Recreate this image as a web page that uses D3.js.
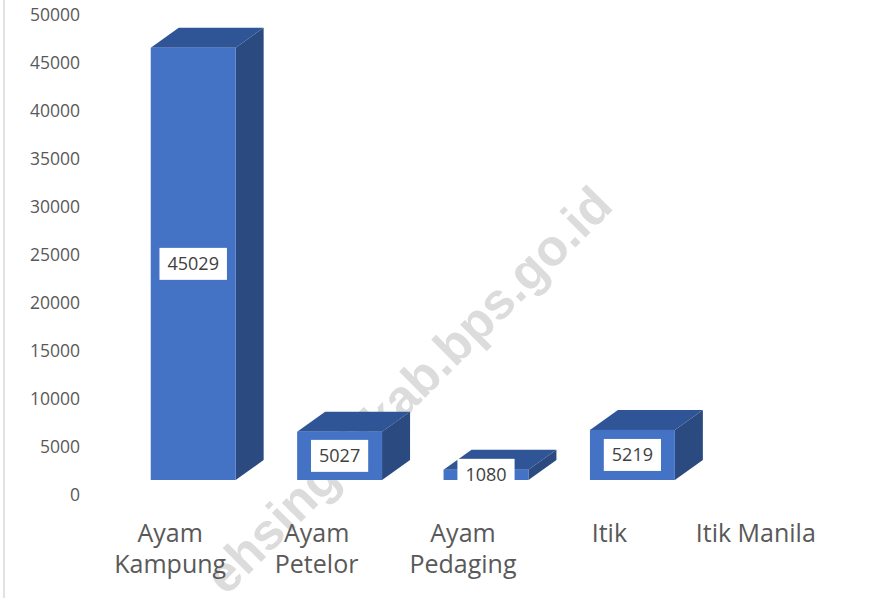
<!DOCTYPE html>
<html>
<head>
<meta charset="utf-8">
<script src="https://cdn.jsdelivr.net/npm/d3@7"></script>
<style>
  body { margin: 0; background: #fff; }
  svg { display: block; }
</style>
</head>
<body>
<svg id="chart" width="889" height="598"></svg>
<script>
// data
const categories = ["Ayam Kampung", "Ayam Petelor", "Ayam Pedaging", "Itik", "Itik Manila"];
const labelLines = [["Ayam", "Kampung"], ["Ayam", "Petelor"], ["Ayam", "Pedaging"], ["Itik"], ["Itik Manila"]];
const values = [45029, 5027, 1080, 5219, null];
const yTicks = [0, 5000, 10000, 15000, 20000, 25000, 30000, 35000, 40000, 45000, 50000];

const svg = d3.select("#chart"),
    width = +svg.attr("width"),
    height = +svg.attr("height");

// depth of the 3d boxes
const dx = 28, dy = -20;
const baseShift = 15; // bars sit above the axis zero like in excel 3d

const x = d3.scaleBand()
    .domain(categories)
    .range([120, 852])
    .paddingInner(0.42)
    .paddingOuter(0.21);

const y = d3.scaleLinear()
    .domain([0, 50000])
    .range([495, 15]);

// left border line
svg.append("line")
    .attr("x1", 4).attr("x2", 4)
    .attr("y1", 0).attr("y2", height)
    .attr("stroke", "#d9d9d9")
    .attr("stroke-width", 1.5);

// watermark (behind bars), clipped at the bottom edge like the original
svg.append("text")
    .attr("transform", "translate(615,208) rotate(-45)")
    .attr("text-anchor", "end")
    .style("font-family", "'Liberation Sans', Arial, sans-serif")
    .style("font-weight", "bold")
    .style("font-size", "51px")
    .style("fill", "#dcdcdc")
    .text("ehsingkilkab.bps.go.id");

// y axis
const yAxis = svg.append("g")
    .attr("transform", "translate(80,0)")
    .call(d3.axisLeft(y).tickValues(yTicks).tickSize(0).tickPadding(0).tickFormat(d3.format("d")));
yAxis.select(".domain").remove();
yAxis.selectAll("text")
    .style("font-family", "'Open Sans', sans-serif")
    .style("font-size", "17.5px")
    .style("fill", "#595959");

// bars
const data = categories.map((c, i) => ({cat: c, v: values[i], lines: labelLines[i]}))
const barData = data.filter(d => d.v != null);

const bar = svg.selectAll(".bar")
    .data(barData)
    .enter().append("g")
    .attr("class", "bar");

function front(d) {
    const x0 = x(d.cat), x1 = x0 + x.bandwidth();
    const yb = y(0) - baseShift, yt = y(d.v) - baseShift;
    return {x0, x1, yb, yt};
}

bar.append("path")
    .attr("d", function (d) {
        const f = front(d);
        return "M" + f.x1 + "," + f.yt + "L" + (f.x1 + dx) + "," + (f.yt + dy) +
            "L" + (f.x1 + dx) + "," + (f.yb + dy) + "L" + f.x1 + "," + f.yb + "Z";
    })
    .style("fill", "#2a4a80");

bar.append("path")
    .attr("d", function (d) {
        const f = front(d);
        return "M" + f.x0 + "," + f.yt + "L" + (f.x0 + dx) + "," + (f.yt + dy) +
            "L" + (f.x1 + dx) + "," + (f.yt + dy) + "L" + f.x1 + "," + f.yt + "Z";
    })
    .style("fill", "#2f5597");

bar.append("rect")
    .attr("x", d => front(d).x0)
    .attr("y", d => front(d).yt)
    .attr("width", x.bandwidth())
    .attr("height", d => front(d).yb - front(d).yt)
    .style("fill", "#4472c4");

// data labels
const lbl = bar.append("g")
    .attr("transform", function (d) {
        const f = front(d);
        return "translate(" + (f.x0 + f.x1) / 2 + "," + (f.yt + f.yb) / 2 + ")";
    });
const lblRect = lbl.append("rect").style("fill", "#fff");
const lblText = lbl.append("text")
    .attr("text-anchor", "middle")
    .attr("dy", "0.35em")
    .style("font-family", "'Open Sans', sans-serif")
    .style("font-size", "18px")
    .style("fill", "#404040")
    .text(d => d.v);
lblText.each(function (d) {
    d.tw = this.getComputedTextLength();
});
lblRect
    .attr("x", d => -d.tw / 2 - 8)
    .attr("width", d => d.tw + 16)
    .attr("y", -16)
    .attr("height", 32);

// category labels
svg.selectAll(".cat")
    .data(data)
    .enter().append("text")
    .attr("class", "cat")
    .attr("text-anchor", "middle")
    .attr("y", 542)
    .style("font-family", "'Open Sans', sans-serif")
    .style("font-size", "25px")
    .style("fill", "#595959")
    .selectAll("tspan")
    .data(d => d.lines.map(l => ({l, x: x(d.cat) + x.bandwidth() / 2 - 23})))
    .enter().append("tspan")
    .attr("x", t => t.x)
    .attr("dy", (t, i) => i === 0 ? 0 : 31)
    .text(t => t.l);
</script>
</body>
</html>
